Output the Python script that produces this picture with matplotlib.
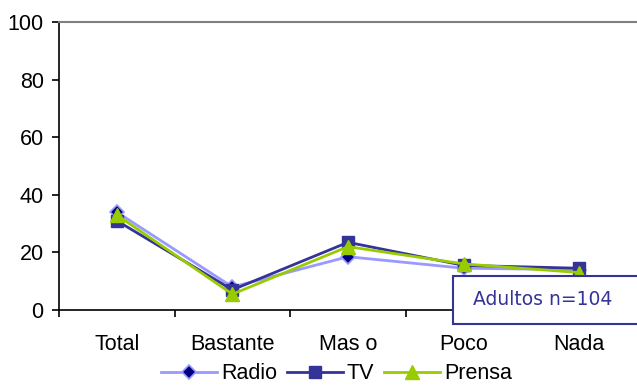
import matplotlib
matplotlib.use("Agg")
import matplotlib.pyplot as plt
from matplotlib.patches import Rectangle
import numpy as np

# chart data
categories = ["Total", "Bastante", "Mas o", "Poco", "Nada"]
radio = [34, 8, 18.5, 14.5, 14]
tv = [31, 7, 23.5, 15.5, 14.5]
prensa = [33, 5.5, 22, 16, 13]
y_ticks = [0, 20, 40, 60, 80, 100]

plt.rcParams['font.family'] = ['Liberation Sans', 'DejaVu Sans']
fs = 15.5

fig = plt.figure(figsize=(6.37, 3.85), dpi=100)
ax = fig.add_axes([0.0926, 0.1948, 0.9074, 0.7481])

x = np.arange(len(categories))
ax.plot(x, radio, color="#9999FF", lw=2, marker="D", ms=7,
        mfc="#000080", mec="#9999FF", mew=1.2, label="Radio", zorder=3)
ax.plot(x, tv, color="#333399", lw=2, marker="s", ms=8,
        mfc="#333399", mec="#333399", label="TV", zorder=4)
ax.plot(x, prensa, color="#99CC00", lw=2, marker="^", ms=10,
        mfc="#99CC00", mec="#99CC00", label="Prensa", zorder=5)

ax.set_xlim(-0.5, len(categories) - 0.5)
ax.set_ylim(0, 100)
ax.set_yticks(y_ticks)
ax.set_xticks(x)
ax.set_xticklabels(categories)
ax.set_xticks(np.arange(-0.5, len(categories), 1), minor=True)
ax.tick_params(axis="x", which="major", length=0, pad=17.5, labelsize=fs)
ax.tick_params(axis="x", which="minor", length=5, width=1.2, direction="out")
ax.tick_params(axis="y", length=5, width=1.2, labelsize=fs, pad=6)

ax.spines["right"].set_visible(False)
ax.spines["top"].set_color("#808080")
ax.spines["top"].set_linewidth(1.5)
ax.spines["left"].set_linewidth(1.2)
ax.spines["bottom"].set_linewidth(1.2)

ax.legend(loc="center", bbox_to_anchor=(0.48, -0.222), ncol=3,
          frameon=False, fontsize=fs, handlelength=2.6, handletextpad=0.2,
          columnspacing=0.45, borderaxespad=0, borderpad=0)

# annotation box, running off the right edge
fig.patches.append(Rectangle((0.711, 0.158), 0.3, 0.125, transform=fig.transFigure,
                             fc="white", ec="#333399", lw=1.5, zorder=10))
fig.text(0.742, 0.222, "Adultos n=104", family="DejaVu Sans", fontsize=13.5,
         color="#333399", va="center", ha="left", zorder=11)

fig.savefig("out.png", dpi=100)
